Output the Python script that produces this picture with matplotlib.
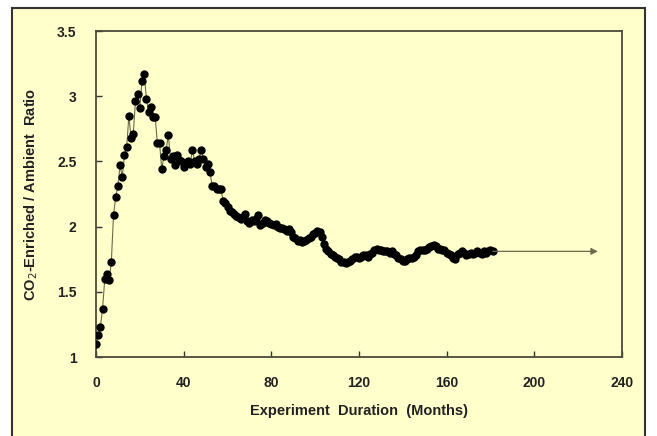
import matplotlib.pyplot as plt
import matplotlib.patches as mpatches
import numpy as np

# monthly ratio
ratio = [
    1.10, 1.17, 1.23, 1.37, 1.60, 1.64, 1.59, 1.73, 2.09, 2.23,
    2.31, 2.47, 2.38, 2.55, 2.61, 2.85, 2.68, 2.71, 2.96, 3.02,
    2.91, 3.12, 3.17, 2.98, 2.88, 2.92, 2.84, 2.84, 2.64, 2.64,
    2.44, 2.54, 2.59, 2.70, 2.52, 2.54, 2.47, 2.55, 2.51, 2.50,
    2.46, 2.49, 2.50, 2.48, 2.59, 2.50, 2.48, 2.52, 2.59, 2.52,
    2.46, 2.48, 2.42, 2.31, 2.31, 2.29, 2.29, 2.29, 2.20, 2.18,
    2.15, 2.12, 2.11, 2.10, 2.08, 2.07, 2.06, 2.07, 2.10, 2.04,
    2.03, 2.05, 2.04, 2.06, 2.09, 2.01, 2.03, 2.05, 2.04, 2.03,
    2.02, 2.01, 2.02, 2.00, 1.99, 1.99, 1.98, 1.97, 1.98, 1.96,
    1.92, 1.91, 1.89, 1.90, 1.88, 1.89, 1.90, 1.91, 1.92, 1.94,
    1.95, 1.97, 1.96, 1.92, 1.87, 1.83, 1.81, 1.79, 1.78, 1.77,
    1.76, 1.75, 1.73, 1.73, 1.72, 1.73, 1.74, 1.75, 1.77, 1.77,
    1.76, 1.77, 1.78, 1.78, 1.77, 1.79, 1.80, 1.82, 1.83, 1.82,
    1.82, 1.81, 1.81, 1.81, 1.80, 1.81, 1.79, 1.78, 1.76, 1.75,
    1.74, 1.74, 1.75, 1.76, 1.76, 1.77, 1.78, 1.81, 1.82, 1.82,
    1.82, 1.83, 1.84, 1.85, 1.86, 1.85, 1.83, 1.83, 1.82, 1.82,
    1.80, 1.79, 1.78, 1.76, 1.75, 1.79, 1.80, 1.81, 1.80, 1.78,
    1.79, 1.80, 1.79, 1.80, 1.81, 1.80, 1.79, 1.81, 1.80, 1.81,
    1.82, 1.81,
]
months = np.arange(len(ratio))
arrow_end = 229

xticks = [0, 40, 80, 120, 160, 200, 240]
yticks = [1, 1.5, 2, 2.5, 3, 3.5]
ylabels = ["1", "1.5", "2", "2.5", "3", "3.5"]

bg = "#ffffcc"
plt.rcParams['font.family'] = ['Liberation Sans', 'DejaVu Sans']

fig = plt.figure(figsize=(6.57, 4.36), dpi=100, facecolor="white")
# outer yellow panel with dark frame, kept behind the axes
frame = mpatches.Rectangle((12 / 657, -0.05), (645 - 12) / 657, 1.05 - 8 / 436,
                           transform=fig.transFigure, facecolor=bg,
                           edgecolor="#333333", linewidth=1.5, zorder=-10)
fig.patches.append(frame)

ax = fig.add_axes([96 / 657, 1 - 357 / 436, (622 - 96) / 657, (357 - 31) / 436])
ax.set_zorder(5)
ax.set_facecolor(bg)

ax.plot(months, ratio, color="#6b6b4a", linewidth=0.8, marker="o",
        markersize=5, markerfacecolor="black", markeredgecolor="black", zorder=3)
ax.annotate("", xy=(arrow_end, ratio[-1]), xytext=(months[-1], ratio[-1]),
            arrowprops=dict(arrowstyle="-|>", color="#6b6b4a", lw=0.9,
                            mutation_scale=10, shrinkA=0, shrinkB=0))

ax.set_xlim(0, 240)
ax.set_ylim(1, 3.5)
ax.set_xticks(xticks)
ax.set_yticks(yticks)
ax.set_yticklabels(ylabels)
ax.tick_params(direction="in", length=4, width=1, color="#333333",
               labelsize=10, pad=14)
for lab in ax.get_xticklabels() + ax.get_yticklabels():
    lab.set_fontweight("bold")
    lab.set_color("#222222")
for s in ax.spines.values():
    s.set_color("#4a4a3a")
    s.set_linewidth(1.3)

ax.set_xlabel("Experiment  Duration  (Months)", fontsize=10.5,
              fontweight="bold", color="#222222", labelpad=10)
ax.set_ylabel("CO$_2$-Enriched / Ambient  Ratio", fontsize=10.5,
              fontweight="bold", color="#222222", labelpad=12)

fig.savefig("out.png", dpi=100, facecolor=fig.get_facecolor())
